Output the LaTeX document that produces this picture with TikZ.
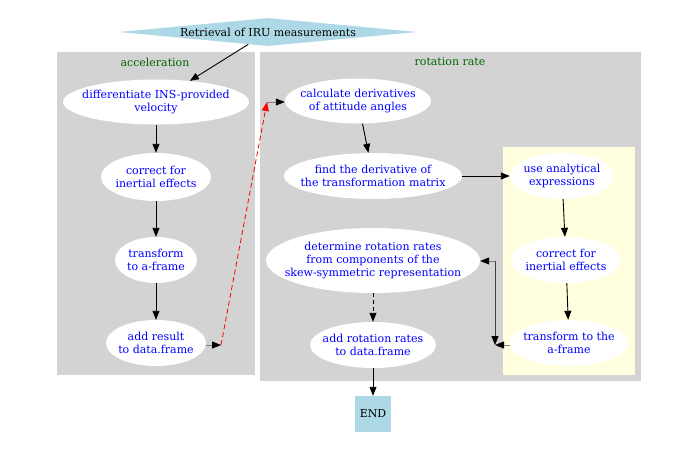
\documentclass[tikz,border=0pt]{standalone}
\usepackage{fontspec}
\setmainfont{DejaVu Serif}
\usetikzlibrary{shapes.geometric,arrows.meta}
\definecolor{lblue}{HTML}{ADD8E6}
\definecolor{clgray}{HTML}{D3D3D3}
\definecolor{lyellow}{HTML}{FFFFE0}
\definecolor{dgreen}{HTML}{006400}
\definecolor{nodeblue}{HTML}{0000FF}
\tikzset{
  txt/.style={font=\fontsize{11}{13}\selectfont, align=center},
  task/.style={ellipse, fill=white, inner sep=0pt},
  tasktext/.style={txt, text=nodeblue, inner sep=0pt},
  clabel/.style={txt, text=dgreen},
  tip/.style={-{Triangle[length=9pt,width=7pt,black]}},
  arr/.style={draw=black, line width=0.9pt, tip},
  garr/.style={draw=gray, line width=0.9pt, tip},
}
\begin{document}
\begin{tikzpicture}[x=1pt,y=-1pt]
\useasboundingbox (0,0) rectangle (696,448);
% clusters
\fill[clgray] (57,52) rectangle (255,375);
\fill[clgray] (260,52) rectangle (641,381);
\fill[lyellow] (503,147) rectangle (635,375);
\node[clabel] (lacc) at (155,62) {acceleration};
\node[clabel] (lrot) at (450,62) {rotation rate};
% top diamond
\node[diamond, fill=lblue, inner sep=0pt, minimum width=298pt, minimum height=28pt, aspect=10.6] (retr) at (268,32) {};
\node[txt] (retrt) at (268,32) {Retrieval of IRU measurements};
% left nodes
\node[task, minimum width=186pt, minimum height=45pt, label={[tasktext]center:differentiate INS-provided\\velocity}] (diff) at (156,102) {};
\node[task, minimum width=110pt, minimum height=48pt, label={[tasktext]center:correct for\\inertial effects}] (corr1) at (156,177) {};
\node[task, minimum width=82pt, minimum height=46pt, label={[tasktext]center:transform\\to a-frame}] (trans1) at (156,260) {};
\node[task, minimum width=100pt, minimum height=46pt, label={[tasktext]center:add result\\to data.frame}] (addres) at (156,343) {};
% right nodes
\node[task, minimum width=146pt, minimum height=45pt, label={[tasktext]center:calculate derivatives\\of attitude angles}] (calc) at (358,101) {};
\node[task, minimum width=178pt, minimum height=46pt, label={[tasktext]center:find the derivative of\\the transformation matrix}] (find) at (373,176) {};
\node[task, minimum width=214pt, minimum height=65pt, label={[tasktext]center:determine rotation rates\\from components of the\\skew-symmetric representation}] (det) at (373,260.5) {};
\node[task, minimum width=126pt, minimum height=46pt, label={[tasktext]center:add rotation rates\\to data.frame}] (addrot) at (373,345) {};
% inner nodes
\node[task, minimum width=104pt, minimum height=46pt, label={[tasktext]center:use analytical\\expressions}] (use) at (562,176) {};
\node[task, minimum width=110pt, minimum height=46pt, label={[tasktext]center:correct for\\inertial effects}] (corr2) at (566,260) {};
\node[task, minimum width=118pt, minimum height=46pt, label={[tasktext]center:transform to the\\a-frame}] (trans2) at (569,343) {};
% END
\node[fill=lblue, minimum width=36pt, minimum height=36pt, inner sep=0pt, txt] (end) at (373,414) {END};
% points
\coordinate (p1) at (221,345);
\coordinate (p2) at (267,102);
\coordinate (p3) at (495,345);
\coordinate (p4) at (495,261);
% edges
\draw[arr] (retr) -- (diff);
\draw[arr] (diff) -- (corr1);
\draw[arr] (corr1) -- (trans1);
\draw[arr] (trans1) -- (addres);
\draw[garr] (addres.east |- p1) -- (p1);
\draw[red, line width=0.8pt, dash pattern=on 5pt off 3pt, -{Triangle[length=9pt,width=7pt]}] (p1) -- (p2);
\draw[garr] (p2) -- (calc.west |- p2);
\draw[arr] (calc) -- (find);
\draw[arr] (find) -- (use);
\draw[arr] (use) -- (corr2);
\draw[arr] (corr2) -- (trans2);
\draw[garr] (trans2.west |- p3) -- (p3);
\draw[draw=black!75, line width=0.9pt, tip] (p4) -- (p3);
\draw[garr] (p4) -- (det.east |- p4);
\draw[arr, dash pattern=on 4pt off 3pt] (det) -- (addrot);
\draw[arr] (addrot) -- (end);
\end{tikzpicture}
\end{document}
